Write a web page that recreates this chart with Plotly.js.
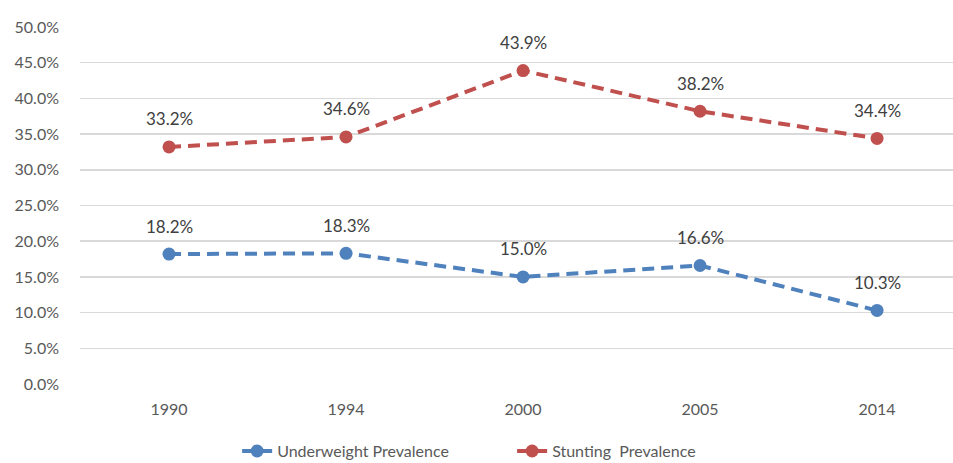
<!DOCTYPE html>
<html>
<head>
<meta charset="utf-8">
<script src="https://cdn.plot.ly/plotly-3.0.1.min.js"></script>
<style>html,body{margin:0;padding:0;background:#fff;}#chart{width:953px;height:463px;}</style>
</head>
<body>
<div id="chart"></div>
<script>
var years = ['1990', '1994', '2000', '2005', '2014'];
var underweight = [0.182, 0.183, 0.150, 0.166, 0.103];
var stunting = [0.332, 0.346, 0.439, 0.382, 0.344];
var seriesNames = ['Underweight Prevalence', 'Stunting  Prevalence'];

var blue = '#4F81BD', red = '#C0504D';
var fontFam = 'Lato, "Open Sans", sans-serif';

function trace(vals, name, color) {
  return {
    x: years, y: vals, name: name, type: 'scatter', mode: 'lines+markers',
    line: {color: color, width: 4, dash: '12px,7px'},
    marker: {color: color, size: 13},
    hoverinfo: 'none'
  };
}

var annotations = [];
[underweight, stunting].forEach(function (vals) {
  vals.forEach(function (v, i) {
    annotations.push({
      x: i, y: v, xref: 'x', yref: 'y',
      text: (v * 100).toFixed(1) + '%', showarrow: false,
      yshift: 28, font: {family: fontFam, size: 17, color: '#404040'}
    });
  });
});

var layout = {
  width: 953, height: 463,
  margin: {l: 80, r: 0, t: 27, b: 79, autoexpand: false},
  paper_bgcolor: '#fff', plot_bgcolor: '#fff',
  font: {family: fontFam, size: 16, color: '#595959'},
  showlegend: true,
  legend: {orientation: 'h', x: 0.495, xanchor: 'center', y: -0.188, yanchor: 'middle',
           entrywidth: 230, entrywidthmode: 'pixels',
           font: {family: fontFam, size: 16, color: '#595959'}},
  xaxis: {type: 'category', range: [-0.503, 4.429], showgrid: false, zeroline: false,
          showline: false, ticks: '', ticklabelstandoff: 14,
          tickfont: {family: fontFam, size: 16, color: '#595959'}},
  yaxis: {range: [0, 0.5], dtick: 0.05, tick0: 0, tickformat: '.1%',
          showgrid: true, gridcolor: '#D9D9D9', gridwidth: 1.5, zeroline: false,
          showline: false, ticks: '', ticklabelstandoff: 20,
          tickfont: {family: fontFam, size: 16, color: '#595959'}},
  annotations: annotations
};

try {
  Plotly.newPlot('chart', [trace(underweight, seriesNames[0], blue), trace(stunting, seriesNames[1], red)], layout, {displayModeBar: false, staticPlot: true});
} catch (e) {
  document.body.insertAdjacentHTML('beforeend', '<pre>' + e + '</pre>');
}
</script>
</body>
</html>
